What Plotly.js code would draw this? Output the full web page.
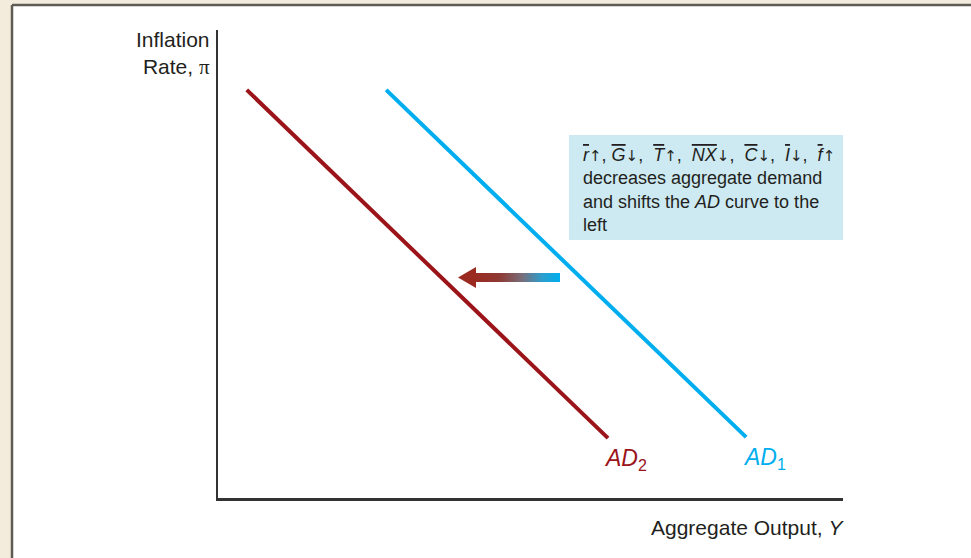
<!DOCTYPE html>
<html>
<head>
<meta charset="utf-8">
<script src="https://cdn.plot.ly/plotly-3.0.1.min.js"></script>
<style>html,body{margin:0;padding:0;background:#fff;}#chart{width:971px;height:558px;}</style>
</head>
<body>
<div id="chart"></div>
<script>
// ---- data ----
const curveNames = ["AD1", "AD2"];
const ad1X = [2.69, 8.45];
const ad1Y = [8.72, 1.30];
const ad2X = [0.46, 6.24];
const ad2Y = [8.72, 1.28];
const xTitle = "Aggregate Output, <i>Y</i>";
const yTitle = "Inflation<br>Rate, <span style=\"font-family:'Liberation Serif'\">π</span>";
const up = "<span style=\"font-family:'DejaVu Sans';font-size:15px\">↑</span>";
const dn = "<span style=\"font-family:'DejaVu Sans';font-size:15px\">↓</span>";
const ov = s => "<i><span style=\"text-decoration:overline\">" + s + "</span></i>";
const noteText = ov("r") + up + ", " + ov("G") + dn + ",  " + ov("T") + up + ",  " + ov("NX") + dn + ",  " +
  ov("C") + dn + ",  " + ov("I") + dn + ",  " + ov("f") + up +
  "<br>decreases aggregate demand<br>and shifts the <i>AD</i> curve to the<br>left";

// ---- layout geometry (pixels) ----
const W = 971, H = 558;
const L = 218, R = 843, T = 30, B = 498;
const XR = [0, 10], YR = [0, 10];
const px2x = p => XR[0] + (p - L) / (R - L) * (XR[1] - XR[0]);
const py2y = p => YR[0] + (B - p) / (B - T) * (YR[1] - YR[0]);
const pxp = p => (p - L) / (R - L);
const pyp = p => (B - p) / (B - T);

const red = '#9b1419';
const cyan = '#00aeef';
const ink = '#231f20';
const font = "'Liberation Sans', Arial, Helvetica, sans-serif";

// arrow (decoration)
const shaft = {x0: px2x(474), x1: px2x(560), y0: py2y(282), y1: py2y(273)};
const head = [[px2x(458), py2y(277.5)], [px2x(476), py2y(267)], [px2x(476), py2y(288)]];

const traces = [
  {x: ad2X, y: ad2Y, mode: 'lines', name: curveNames[1], line: {color: red, width: 4}, hoverinfo: 'skip'},
  {x: ad1X, y: ad1Y, mode: 'lines', name: curveNames[0], line: {color: cyan, width: 4}, hoverinfo: 'skip'},
  {x: [shaft.x0, shaft.x1, shaft.x1, shaft.x0, shaft.x0], y: [shaft.y0, shaft.y0, shaft.y1, shaft.y1, shaft.y0],
   mode: 'none', fill: 'toself', hoverinfo: 'skip',
   fillgradient: {type: 'horizontal', colorscale: [[0, '#9a2a20'], [0.3, '#8e3a34'], [0.55, '#7a6c78'], [0.8, '#2a9fcf'], [1, '#00aeef']]}},
  {x: head.map(p => p[0]).concat([head[0][0]]), y: head.map(p => p[1]).concat([head[0][1]]),
   mode: 'none', fill: 'toself', fillcolor: '#9a2a20', hoverinfo: 'skip'}
];

const layout = {
  width: W, height: H,
  margin: {l: L, r: W - R, t: T, b: H - B, pad: 0},
  paper_bgcolor: '#f3ecdc',
  plot_bgcolor: 'rgba(0,0,0,0)',
  showlegend: false,
  font: {family: font, color: ink},
  xaxis: {range: XR, showgrid: false, zeroline: false, showticklabels: false, ticks: '',
          showline: true, linecolor: '#333333', linewidth: 2.5, fixedrange: true},
  yaxis: {range: YR, showgrid: false, zeroline: false, showticklabels: false, ticks: '',
          showline: true, linecolor: '#333333', linewidth: 2.5, fixedrange: true},
  shapes: [
    {type: 'rect', xref: 'paper', yref: 'paper', layer: 'below',
     x0: pxp(12), x1: pxp(W + 20), y0: pyp(H + 20), y1: pyp(5), fillcolor: '#ffffff', line: {width: 0}},
    {type: 'line', xref: 'paper', yref: 'paper', layer: 'below',
     x0: pxp(12), x1: pxp(W + 20), y0: pyp(5), y1: pyp(5), line: {color: '#5f5b55', width: 2.5}},
    {type: 'line', xref: 'paper', yref: 'paper', layer: 'below',
     x0: pxp(12), x1: pxp(12), y0: pyp(5), y1: pyp(H + 20), line: {color: '#5f5b55', width: 2.5}},
    {type: 'rect', xref: 'paper', yref: 'paper', layer: 'below',
     x0: pxp(569), x1: pxp(843), y0: pyp(240), y1: pyp(135), fillcolor: '#cdeaf2', line: {width: 0}}
  ],
  annotations: [
    {xref: 'paper', yref: 'paper', x: pxp(212), y: pyp(26), xanchor: 'right', yanchor: 'top', align: 'right',
     showarrow: false, text: yTitle, font: {size: 21, color: ink, family: font}},
    {xref: 'paper', yref: 'paper', x: pxp(846), y: pyp(527), xanchor: 'right', yanchor: 'middle', align: 'right',
     showarrow: false, text: xTitle, font: {size: 21, color: ink, family: font}},
    {xref: 'x', yref: 'y', x: ad2X[1], y: ad2Y[1], xanchor: 'center', yanchor: 'top', yshift: -5, xshift: 17,
     showarrow: false, text: '<i>AD</i><sub>2</sub>', font: {size: 23, color: red, family: font}},
    {xref: 'x', yref: 'y', x: ad1X[1], y: ad1Y[1], xanchor: 'center', yanchor: 'top', yshift: -5, xshift: 18,
     showarrow: false, text: '<i>AD</i><sub>1</sub>', font: {size: 23, color: cyan, family: font}},
    {xref: 'paper', yref: 'paper', x: pxp(581), y: pyp(143), xanchor: 'left', yanchor: 'top', align: 'left',
     showarrow: false, text: noteText, font: {size: 18, color: ink, family: font}}
  ]
};

Plotly.newPlot('chart', traces, layout, {staticPlot: true, displayModeBar: false});
</script>
</body>
</html>
